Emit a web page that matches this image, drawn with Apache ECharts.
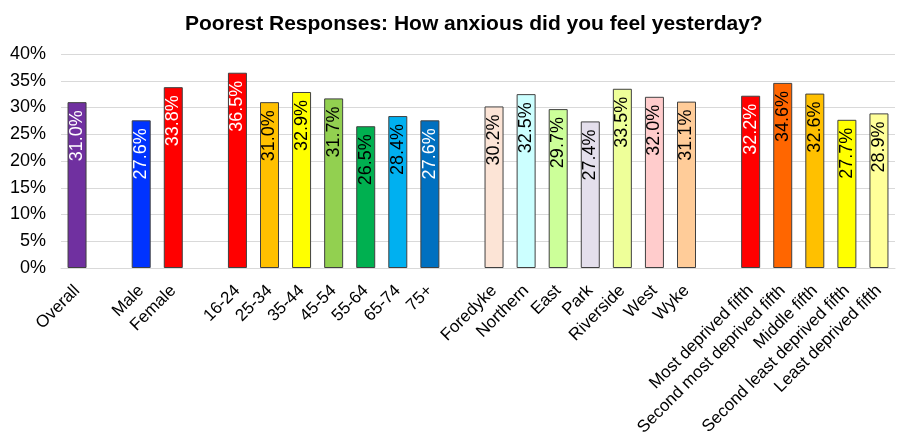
<!DOCTYPE html>
<html>
<head>
<meta charset="utf-8">
<script src="https://cdn.jsdelivr.net/npm/echarts@6/dist/echarts.min.js"></script>
<style>
  html, body { margin: 0; padding: 0; background: #fff; }
  #chart { width: 915px; height: 434px; }
</style>
</head>
<body>
<div id="chart"></div>
<script>
// Groups of categories, separated on the axis by an empty slot
const overallCats = ['Overall'];
const overallVals = [31.0];
const sexCats = ['Male', 'Female'];
const sexVals = [27.6, 33.8];
const ageCats = ['16-24', '25-34', '35-44', '45-54', '55-64', '65-74', '75+'];
const ageVals = [36.5, 31.0, 32.9, 31.7, 26.5, 28.4, 27.6];
const areaCats = ['Foredyke', 'Northern', 'East', 'Park', 'Riverside', 'West', 'Wyke'];
const areaVals = [30.2, 32.5, 29.7, 27.4, 33.5, 32.0, 31.1];
const deprivCats = ['Most deprived fifth', 'Second most deprived fifth', 'Middle fifth', 'Second least deprived fifth', 'Least deprived fifth'];
const deprivVals = [32.2, 34.6, 32.6, 27.7, 28.9];
const yTicks = [0, 5, 10, 15, 20, 25, 30, 35, 40];

// Bar fills, in the same order as the groups
const overallColors = ['#7030A0'];
const sexColors = ['#0033FF', '#FF0000'];
const ageColors = ['#FF0000', '#FFC000', '#FFFF00', '#92D050', '#00B050', '#00B0F0', '#0070C0'];
const areaColors = ['#FCE4D6', '#CCFFFF', '#CCFF99', '#E4DFEC', '#EEFF99', '#FFCCCC', '#FFCC99'];
const deprivColors = ['#FF0000', '#FF6600', '#FFC000', '#FFFF00', '#FFFF99'];
const darkFills = ['#7030A0', '#0033FF', '#FF0000', '#0070C0'];

const groups = [
  [overallCats, overallVals, overallColors],
  [sexCats, sexVals, sexColors],
  [ageCats, ageVals, ageColors],
  [areaCats, areaVals, areaColors],
  [deprivCats, deprivVals, deprivColors]
];

const categories = [];
const seriesData = [];
groups.forEach((g, gi) => {
  if (gi > 0) { categories.push(''); seriesData.push('-'); }
  g[0].forEach((c, i) => {
    categories.push(c);
    const fill = g[2][i];
    seriesData.push({
      value: g[1][i],
      itemStyle: { color: fill },
      label: { color: darkFills.includes(fill) ? '#FFFFFF' : '#000000' }
    });
  });
});

const chart = echarts.init(document.getElementById('chart'), null, { renderer: 'canvas' });
const font = '"Liberation Sans", Arial, sans-serif';
chart.setOption({
  animation: false,
  backgroundColor: '#FFFFFF',
  textStyle: { fontFamily: font },
  title: {
    text: 'Poorest Responses: How anxious did you feel yesterday?',
    left: 180,
    top: 9,
    textStyle: { fontFamily: font, fontSize: 21, fontWeight: 'bold', color: '#000' }
  },
  grid: { left: 61, right: 20, top: 54, bottom: 166, containLabel: false, outerBoundsMode: 'none' },
  xAxis: {
    type: 'category',
    data: categories,
    axisTick: { show: false },
    axisLine: { lineStyle: { color: '#D9D9D9', width: 1 } },
    axisLabel: {
      interval: 0,
      rotate: 45,
      margin: 20,
      fontSize: 17,
      color: '#000',
      fontFamily: font
    }
  },
  yAxis: {
    type: 'value',
    min: yTicks[0],
    max: yTicks[yTicks.length - 1],
    interval: 5,
    axisLine: { show: false },
    axisTick: { show: false },
    splitLine: { lineStyle: { color: '#D9D9D9', width: 1 } },
    axisLabel: {
      formatter: v => v + '%',
      fontSize: 18,
      margin: 15,
      color: '#000',
      fontFamily: font
    }
  },
  series: [{
    type: 'bar',
    data: seriesData,
    barWidth: 19,
    itemStyle: { borderColor: '#404040', borderWidth: 1 },
    label: {
      show: true,
      position: 'insideTop',
      rotate: 90,
      align: 'right',
      verticalAlign: 'middle',
      distance: 8,
      fontSize: 18,
      fontFamily: font,
      formatter: p => p.value.toFixed(1) + '%'
    }
  }]
});
</script>
</body>
</html>
